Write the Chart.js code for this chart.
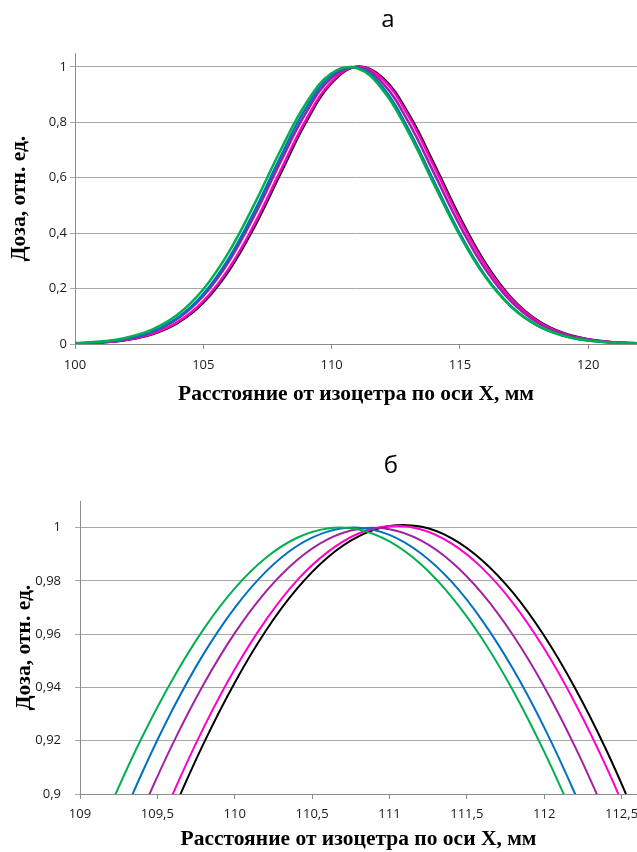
<!DOCTYPE html>
<html><head><meta charset="utf-8">
<script src="https://cdn.jsdelivr.net/npm/chart.js@4.4.1/dist/chart.umd.min.js"></script>
<style>
html,body{margin:0;padding:0;background:#fff}
#wrap{position:relative;width:637px;height:852px;overflow:hidden}
canvas{position:absolute;left:0}
</style></head><body>
<div id="wrap">
<canvas id="ca" width="637" height="410" style="top:0"></canvas>
<canvas id="cb" width="637" height="442" style="top:410px"></canvas>
</div>
<script>
// ---------- data ----------
const panelTitles = ['а', 'б'];
const xTitle = 'Расстояние от изоцетра по оси X, мм';
const yTitle = 'Доза, отн. ед.';

// panel а
const xA = [100,101,102,103,104,105,106,107,108,109,110,111,112,113,114,115,116,117,118,119,120,121,122];
const greenA   = [0.0032,0.0090,0.0227,0.0516,0.1062,0.1977,0.3327,0.5065,0.6973,0.8680,0.9771,0.9948,0.9159,0.7625,0.5741,0.3909,0.2407,0.1340,0.0675,0.0307,0.0127,0.0047,0.0016];
const blueA    = [0.0025,0.0073,0.0190,0.0446,0.0943,0.1799,0.3097,0.4808,0.6735,0.8509,0.9699,0.9973,0.9250,0.7740,0.5842,0.3978,0.2443,0.1354,0.0677,0.0305,0.0124,0.0046,0.0015];
const purpleA  = [0.0025,0.0072,0.0185,0.0431,0.0908,0.1732,0.2985,0.4652,0.6552,0.8343,0.9604,0.9994,0.9403,0.7997,0.6148,0.4273,0.2685,0.1525,0.0783,0.0364,0.0153,0.0058,0.0020];
const magentaA = [0.0020,0.0058,0.0153,0.0367,0.0793,0.1548,0.2729,0.4342,0.6237,0.8088,0.9468,1.0006,0.9546,0.8222,0.6392,0.4487,0.2843,0.1626,0.0839,0.0391,0.0165,0.0063,0.0021];
const blackA   = [0.0018,0.0054,0.0145,0.0349,0.0760,0.1494,0.2651,0.4245,0.6134,0.8001,0.9418,1.0006,0.9594,0.8302,0.6484,0.4570,0.2907,0.1669,0.0865,0.0405,0.0171,0.0065,0.0022];
const xTicksA = [100,105,110,115,120];
const yTicksA = [0,0.2,0.4,0.6,0.8,1];

// panel б
const xB = [109.0,109.2,109.4,109.6,109.8,110.0,110.2,110.4,110.6,110.8,111.0,111.2,111.4,111.6,111.8,112.0,112.2,112.4,112.6];
const greenB   = [0.8680,0.8960,0.9212,0.9432,0.9620,0.9772,0.9886,0.9961,0.9997,0.9993,0.9948,0.9864,0.9741,0.9582,0.9387,0.9159,0.8901,0.8615,0.8305];
const blueB    = [0.8509,0.8807,0.9078,0.9319,0.9527,0.9699,0.9834,0.9930,0.9985,1.0000,0.9973,0.9905,0.9798,0.9651,0.9468,0.9250,0.9000,0.8721,0.8415];
const purpleB  = [0.8343,0.8651,0.8934,0.9189,0.9413,0.9604,0.9759,0.9877,0.9956,0.9995,0.9994,0.9953,0.9872,0.9752,0.9595,0.9403,0.9177,0.8920,0.8636];
const magentaB = [0.8088,0.8416,0.8721,0.9000,0.9250,0.9468,0.9652,0.9800,0.9908,0.9978,1.0006,0.9994,0.9941,0.9848,0.9716,0.9546,0.9341,0.9104,0.8836];
const blackB   = [0.8001,0.8334,0.8646,0.8933,0.9191,0.9418,0.9612,0.9769,0.9888,0.9967,1.0006,1.0004,0.9961,0.9877,0.9755,0.9594,0.9397,0.9167,0.8905];
const xTicksB = [109,109.5,110,110.5,111,111.5,112,112.5];
const yTicksB = [0.9,0.92,0.94,0.96,0.98,1];

// ---------- styles ----------
const lineColors = ['#00B050','#0070C0','#A0229F','#FF00CC','#000000']; // green, blue, purple, magenta, black

const fmt = v => String(Math.round(v * 1000) / 1000).replace('.', ',');

const panelTitlePlugin = {
  id: 'panelTitle',
  afterDraw(chart, args, o) {
    const ctx = chart.ctx;
    ctx.save();
    ctx.font = '24px "Open Sans"';
    ctx.fillStyle = '#000';
    ctx.textAlign = 'center';
    ctx.textBaseline = 'alphabetic';
    ctx.fillText(o.text, o.x, o.y);
    ctx.restore();
  }
};

function pts(xs, ys) { return xs.map((x, i) => ({x: x, y: ys[i]})); }

function makeChart(id, xs, series, xTicks, yTicks, cfg) {
  const datasets = series.map((ys, i) => ({
    data: pts(xs, ys),
    borderColor: lineColors[i],
    borderWidth: cfg.lw,
    pointRadius: 0,
    tension: 0.4,
    fill: false
  }));
  return new Chart(document.getElementById(id), {
    type: 'line',
    data: { datasets },
    plugins: [panelTitlePlugin],
    options: {
      responsive: false,
      animation: false,
      devicePixelRatio: 1,
      layout: { padding: { left: cfg.padL, top: cfg.padT, right: 0, bottom: cfg.padB } },
      plugins: {
        legend: { display: false },
        tooltip: { enabled: false },
        panelTitle: { text: cfg.title, x: cfg.tx, y: cfg.ty }
      },
      scales: {
        x: {
          type: 'linear',
          min: cfg.xmin, max: cfg.xmax,
          afterBuildTicks: s => { s.ticks = xTicks.map(v => ({value: v})); },
          afterFit: s => { s.height = cfg.xH; s.paddingLeft = 0; s.paddingRight = 0; },
          grid: { drawOnChartArea: false, drawTicks: true, tickLength: 5, color: '#8C8C8C' },
          border: { color: '#8C8C8C', width: 1 },
          ticks: { callback: v => fmt(v), color: '#1a1a1a', padding: cfg.xTickPad, maxRotation: 0, autoSkip: false,
                   font: { family: '"Open Sans"', size: 13 } },
          title: { display: true, text: xTitle, color: '#000', padding: {top: 0, bottom: 0},
                   font: { family: '"Liberation Serif"', weight: 'bold', size: 21.5 } }
        },
        y: {
          min: cfg.ymin, max: cfg.ymax,
          afterBuildTicks: s => { s.ticks = yTicks.map(v => ({value: v})); },
          afterFit: s => { s.width = cfg.yW; s.paddingTop = 0; s.paddingBottom = 0; },
          grid: { color: '#A8A8A8', tickLength: 5, drawTicks: true },
          border: { color: '#8C8C8C', width: 1 },
          ticks: { callback: v => fmt(v), color: '#1a1a1a', padding: cfg.yTickPad, autoSkip: false,
                   font: { family: '"Open Sans"', size: 13 } },
          title: { display: true, text: yTitle, color: '#000', padding: {top: 0, bottom: 0},
                   font: { family: '"Liberation Serif"', weight: 'bold', size: 21.5 } }
        }
      }
    }
  });
}

makeChart('ca', xA, [greenA, blueA, purpleA, magentaA, blackA], xTicksA, yTicksA, {
  lw: 2.5, padL: 7, padT: 53, padB: 3, xH: 63, yW: 68, xTickPad: 8, yTickPad: 3,
  xmin: 100, xmax: 121.9, ymin: 0, ymax: 1.05,
  title: panelTitles[0], tx: 388, ty: 27
});
makeChart('cb', xB, [greenB, blueB, purpleB, magentaB, blackB], xTicksB, yTicksB, {
  lw: 2, padL: 12, padT: 91, padB: 0, xH: 58, yW: 68, xTickPad: 7, yTickPad: 14,
  xmin: 109, xmax: 112.6, ymin: 0.9, ymax: 1.01,
  title: panelTitles[1], tx: 391, ty: 63
});
</script>
</body></html>
